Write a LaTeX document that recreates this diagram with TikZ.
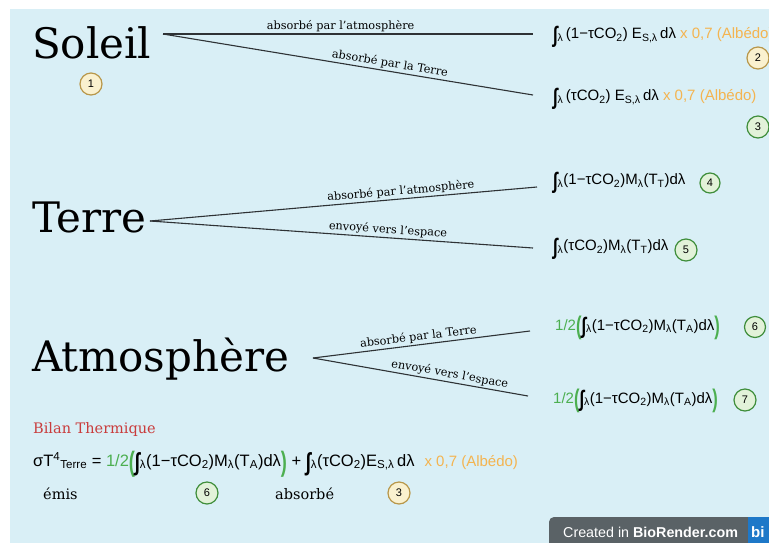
\documentclass[tikz,border=0pt]{standalone}
\usepackage{fontspec}
\setmainfont{DejaVu Serif}
\setsansfont{Liberation Sans}
\usepackage{graphicx}

\definecolor{bgblue}{HTML}{D9EFF6}
\definecolor{linegray}{HTML}{2E3235}
\definecolor{albedo}{HTML}{F4B450}
\definecolor{halfgreen}{HTML}{4CAF50}
\definecolor{bilanred}{HTML}{C93C3C}
\definecolor{goldline}{HTML}{B8974A}
\definecolor{goldfill}{HTML}{FAF1CF}
\definecolor{greenline}{HTML}{3F8E3B}
\definecolor{greenfill}{HTML}{E2F2D9}
\definecolor{badgegray}{HTML}{5A6266}
\definecolor{bioblue}{HTML}{1E78C8}

\newcommand{\intl}{\raisebox{-0.25em}{\scalebox{1.1}[1.5]{\bfseries ∫}}}
\newcommand{\bigpar}[1]{\textcolor{halfgreen}{\raisebox{-0.3em}{\scalebox{1.1}[1.7]{\bfseries #1}}}}

\begin{document}
\begin{tikzpicture}[x=1pt, y=-1pt,
    title/.style={anchor=base west, inner sep=0pt, font=\fontsize{42}{46}\selectfont},
    lbl/.style={font=\fontsize{11.3}{13}\selectfont, inner sep=1.5pt, sloped, above},
    formula/.style={anchor=west, inner sep=0pt, font=\sffamily\fontsize{15}{18}\selectfont},
    note/.style={anchor=west, inner sep=0pt, font=\fontsize{14.5}{17}\selectfont},
    link/.style={draw=linegray, line width=1.1pt},
    yellownode/.style={shape=circle, draw=goldline, fill=goldfill, line width=1.2pt, minimum size=22pt, inner sep=0pt, font=\sffamily\fontsize{11}{12}\selectfont},
    greennode/.style={shape=circle, draw=greenline, fill=greenfill, line width=1.2pt, minimum size=22pt, inner sep=0pt, font=\sffamily\fontsize{11}{12}\selectfont}]
  \clip (0,0) rectangle (769,542);
  \fill[bgblue] (10,9) rectangle (780,550);

  % sources
  \node[title] (soleil) at (32,58) {Soleil};
  \node[title] (terre) at (32,232) {Terre};
  \node[title] (atmo) at (32,371) {Atmosphère};
  \coordinate (soleil-r) at (163,34);
  \coordinate (terre-r) at (150,221);
  \coordinate (atmo-r) at (313,358);

  % flux
  \node[formula] (f1) at (553,37) {\intl\textsubscript{λ}\,(1−τCO\textsubscript{2}) E\textsubscript{S,λ}\,dλ \textcolor{albedo}{x 0,7 (Albédo)}};
  \node[formula] (f2) at (553,99) {\intl\textsubscript{λ}\,(τCO\textsubscript{2}) E\textsubscript{S,λ}\,dλ \textcolor{albedo}{x 0,7 (Albédo)}};
  \node[formula] (f4) at (553,183) {\intl\textsubscript{λ}(1−τCO\textsubscript{2})M\textsubscript{λ}(T\textsubscript{T})dλ};
  \node[formula] (f5) at (553,249) {\intl\textsubscript{λ}(τCO\textsubscript{2})M\textsubscript{λ}(T\textsubscript{T})dλ};
  \node[formula] (f6) at (555,328) {\textcolor{halfgreen}{1/2}\bigpar{(}\intl\textsubscript{λ}(1−τCO\textsubscript{2})M\textsubscript{λ}(T\textsubscript{A})dλ\bigpar{)}};
  \node[formula] (f7) at (553,401) {\textcolor{halfgreen}{1/2}\bigpar{(}\intl\textsubscript{λ}(1−τCO\textsubscript{2})M\textsubscript{λ}(T\textsubscript{A})dλ\bigpar{)}};

  \draw[link] (soleil-r) -- ([shift={(-20,-3)}]f1.west) node[lbl, pos=.48] {absorbé par l'atmosphère};
  \draw[link] (soleil-r) -- ([shift={(-20,-4)}]f2.west) node[lbl, pos=.61] {absorbé par la Terre};
  \draw[link] (terre-r) -- ([shift={(-16,4)}]f4.west) node[lbl, pos=.65] {absorbé par l'atmosphère};
  \draw[link] (terre-r) -- ([shift={(-20,-1)}]f5.west) node[lbl, pos=.62] {envoyé vers l'espace};
  \draw[link] (atmo-r) -- ([shift={(-25,3)}]f6.west) node[lbl, pos=.49] {absorbé par la Terre};
  \draw[link] (atmo-r) -- ([shift={(-25,-5)}]f7.west) node[lbl, pos=.63] {envoyé vers l'espace};

  % numeros
  \node[yellownode] (n1) at (91,84) {1};
  \node[yellownode] (n2) at (758,58) {2};
  \node[greennode] (n3) at (758,127) {3};
  \node[greennode, minimum size=20pt] (n4) at (710,183) {4};
  \node[greennode] (n5) at (686,250) {5};
  \node[greennode, minimum size=21pt] (n6) at (755,327) {6};
  \node[greennode] (n7) at (745,400) {7};

  % bilan
  \node[note, text=bilanred] (bilan) at (33,429) {Bilan Thermique};
  \node[formula, font=\sffamily\fontsize{16.5}{18}\selectfont] (eq) at (33,464) {σT\textsuperscript{4}\textsubscript{Terre} = \textcolor{halfgreen}{1/2}\bigpar{(}\intl\textsubscript{λ}(1−τCO\textsubscript{2})M\textsubscript{λ}(T\textsubscript{A})dλ\bigpar{)} + \intl\textsubscript{λ}(τCO\textsubscript{2})E\textsubscript{S,λ}\,dλ\hspace{10pt}{\fontsize{15}{17}\selectfont\textcolor{albedo}{x 0,7 (Albédo)}}};
  \node[note] (emis) at (43,494) {émis};
  \node[greennode] (n6b) at (207,493) {6};
  \node[note] (absorbe) at (275,494) {absorbé};
  \node[yellownode] (n3b) at (399,493) {3};

  % badge
  \fill[badgegray] (549,560) [rounded corners=5pt] -- (549,517) -- (790,517) [sharp corners] -- (790,560) -- cycle;
  \fill[bioblue] (748,517) rectangle (790,560);
  \node[anchor=west, inner sep=0pt, text=white, font=\sffamily\fontsize{14.3}{15}\selectfont] (badge) at (563,532) {Created in \textbf{BioRender.com}};
  \node[anchor=west, inner sep=0pt, text=white, font=\sffamily\bfseries\fontsize{15}{15}\selectfont] (bi) at (751,532) {bi};
\end{tikzpicture}
\end{document}
